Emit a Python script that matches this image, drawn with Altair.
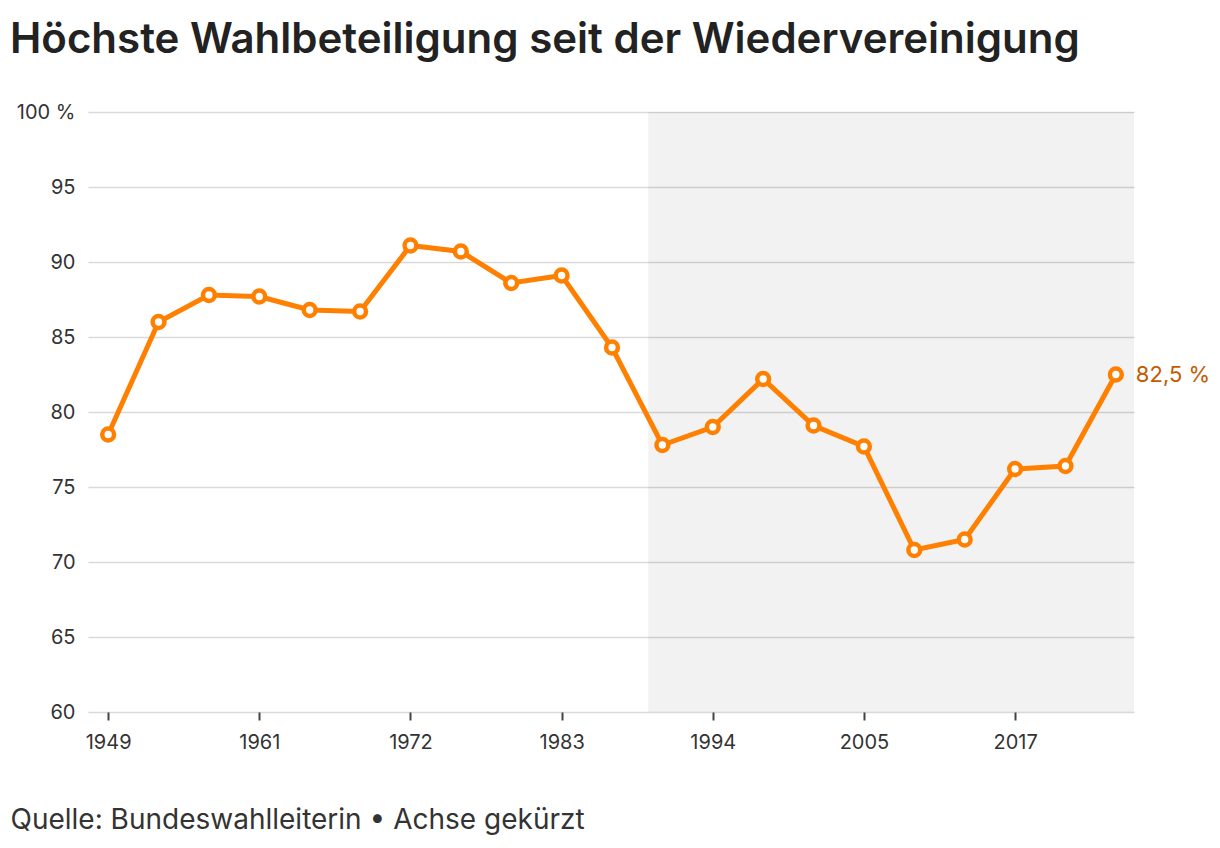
import altair as alt
import pandas as pd

years = [1949, 1953, 1957, 1961, 1965, 1969, 1972, 1976, 1980, 1983, 1987,
         1990, 1994, 1998, 2002, 2005, 2009, 2013, 2017, 2021, 2025]
turnout = [78.5, 86.0, 87.8, 87.7, 86.8, 86.7, 91.1, 90.7, 88.6, 89.1, 84.3,
           77.8, 79.0, 82.2, 79.1, 77.7, 70.8, 71.5, 76.2, 76.4, 82.5]
tick_years = [1949, 1961, 1972, 1983, 1994, 2005, 2017]
y_ticks = [60, 65, 70, 75, 80, 85, 90, 95, 100]

idx = list(range(len(years)))
df = pd.DataFrame({"i": idx, "year": years, "v": turnout})
df["label"] = [f"{v:.1f}".replace(".", ",") + " %" for v in turnout]
last = df.tail(1)

x_domain = [-0.4, 20.36]
shade = pd.DataFrame({"x": [10.72], "x2": [x_domain[1]]})

year_map = "{" + ",".join(f"'{i}':'{y}'" for i, y in zip(idx, years)) + "}"
tick_idx = [years.index(y) for y in tick_years]

FONT = "Inter"
xs = alt.Scale(domain=x_domain, nice=False, zero=False)
ys = alt.Scale(domain=[60, 100], nice=False, zero=False)

x_axis = alt.Axis(
    values=tick_idx,
    labelExpr=f"{year_map}[toString(datum.value)]",
    grid=False, domain=False, ticks=True, tickSize=8, tickColor="#444444",
    tickWidth=2, labelPadding=12, labelFontSize=20, labelColor="#333333",
    labelFont=FONT,
    title="Quelle: Bundeswahlleiterin • Achse gekürzt",
    titleFont=FONT, titleFontSize=28, titleFontWeight="normal",
    titleColor="#333333", titleAnchor="start", titleAlign="left",
    titleX=-78, titleY=116, titleBaseline="alphabetic",
)
y_axis = alt.Axis(
    values=y_ticks,
    labelExpr="datum.value == 100 ? '100 %' : datum.label",
    grid=True, gridColor="#d9d9d9", gridWidth=1.5, domain=False, ticks=False,
    labelPadding=13, labelFontSize=20, labelColor="#333333", labelFont=FONT,
    title=None,
)

band = alt.Chart(shade).mark_rect(color="#000000", opacity=0.05).encode(
    x=alt.X("x:Q", scale=xs, axis=x_axis),
    x2="x2:Q",
    y=alt.value(0),
    y2=alt.value(600),
)

line = alt.Chart(df).mark_line(color="#ff8000", strokeWidth=5).encode(
    x=alt.X("i:Q", scale=xs, axis=x_axis),
    y=alt.Y("v:Q", scale=ys, axis=y_axis),
)

pts = alt.Chart(df).mark_point(
    shape="circle", filled=True, fill="white", stroke="#ff8000",
    strokeWidth=4.5, size=140, opacity=1
).encode(
    x=alt.X("i:Q", scale=xs),
    y=alt.Y("v:Q", scale=ys),
)

lab = alt.Chart(last).mark_text(
    align="left", baseline="middle", dx=20, fontSize=22, font=FONT,
    color="#c55a00"
).encode(
    x=alt.X("i:Q", scale=xs),
    y=alt.Y("v:Q", scale=ys),
    text="label:N",
)

chart = alt.layer(band, line, pts, lab).properties(
    width=1046, height=600,
    autosize=alt.AutoSizeParams(type="none"),
    padding={"left": 80, "top": 104, "right": 78, "bottom": 128},
    title=alt.TitleParams(
        "Höchste Wahlbeteiligung seit der Wiedervereinigung",
        anchor="start", frame="group", dx=-78, offset=40,
        font=FONT, fontSize=42, fontWeight=600, color="#222222",
    ),
).configure_view(stroke=None)

chart.save("out.html", embed_options={"renderer": "svg", "actions": False})
